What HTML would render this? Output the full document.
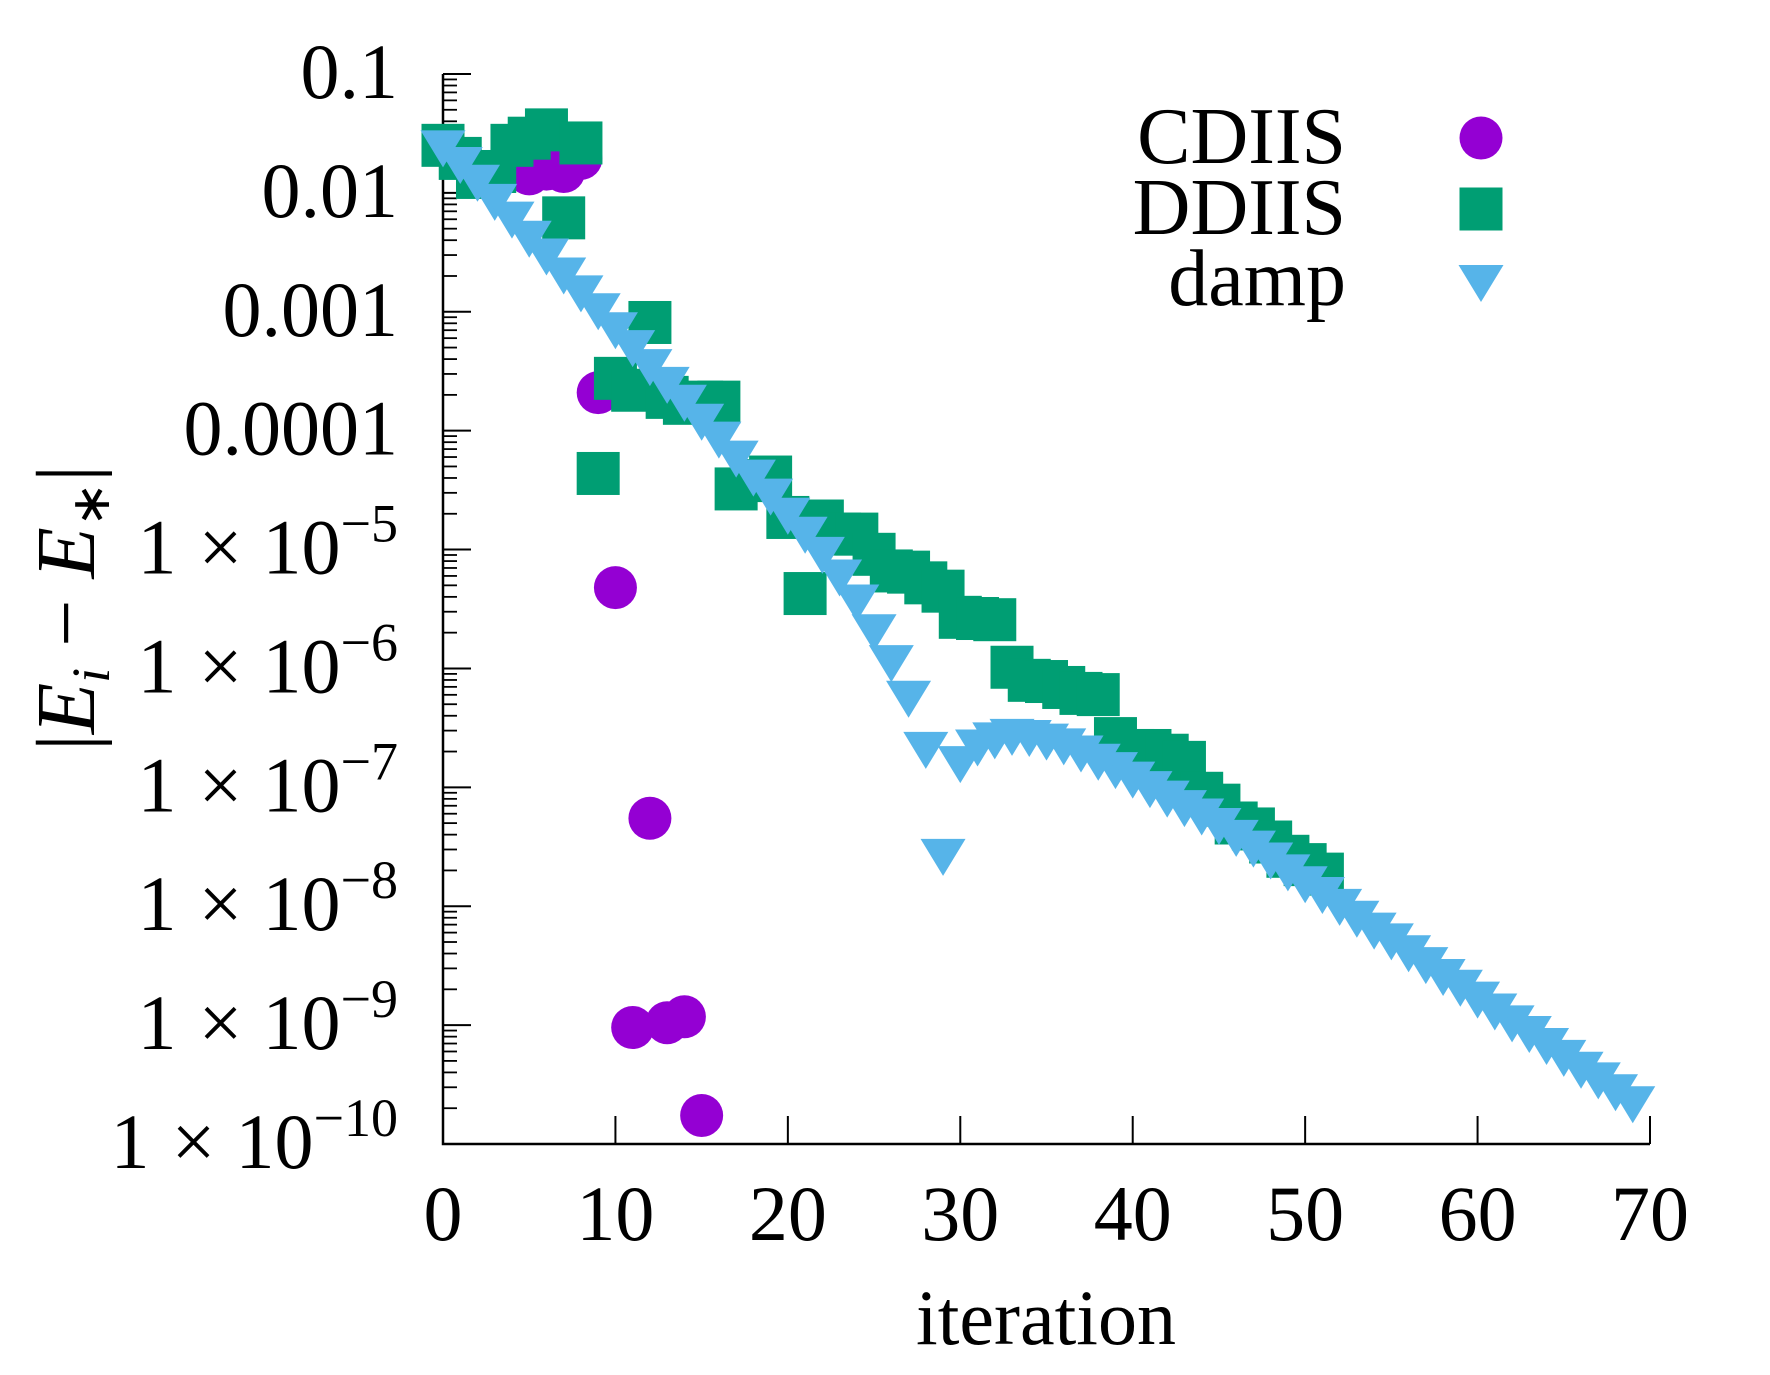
<!DOCTYPE html>
<html><head><meta charset="utf-8"><style>
html,body{margin:0;padding:0;background:#fff;}
svg{display:block;font-family:"Liberation Serif",serif;}
</style></head><body>
<svg id="chart" width="1770" height="1375" viewBox="0 0 1770 1375" xmlns="http://www.w3.org/2000/svg">
<g id="axes"></g>
<g id="marks"></g>
<g id="legend"></g>
<text x="1046" y="1344" font-size="78" text-anchor="middle">iteration</text>
<text transform="translate(94,608) rotate(-90)" font-size="84" text-anchor="middle">|<tspan font-style="italic">E</tspan><tspan font-style="italic" font-size="54" dy="15">i</tspan><tspan dy="-15"> − </tspan><tspan font-style="italic">E</tspan><tspan font-size="54" dy="15">∗</tspan><tspan dy="-15">|</tspan></text>
</svg>
<script>
const xTicks = [0,10,20,30,40,50,60,70];
const yDecades = [-1,-2,-3,-4,-5,-6,-7,-8,-9,-10];
const yTickLabels = ["0.1","0.01","0.001","0.0001","1 × 10","1 × 10","1 × 10","1 × 10","1 × 10","1 × 10"];
const yTickExps = ["","","","","−5","−6","−7","−8","−9","−10"];
const seriesNames = ["CDIIS","DDIIS","damp"];

const cdiisIter = [5,6,7,8,9,10,11,12,13,14,15];
const cdiisLog = [-1.84,-1.80,-1.82,-1.71,-3.68,-5.32,-9.02,-7.26,-8.98,-8.93,-9.76];

const ddiisIter = [0,1,2,3,4,5,6,7,8,9,10,11,12,13,14,15,16,17,18,19,20,21,22,23,24,25,26,27,28,29,30,31,32,33,34,35,36,37,38,39,40,41,42,43,44,45,46,47,48,49,50,51];
const ddiisLog = [-1.60,-1.71,-1.87,-1.82,-1.60,-1.54,-1.47,-2.21,-1.58,-4.36,-3.56,-3.66,-3.09,-3.72,-3.77,-3.76,-3.76,-4.49,-4.42,-4.39,-4.73,-5.37,-4.76,-4.87,-4.87,-5.04,-5.18,-5.19,-5.28,-5.35,-5.57,-5.58,-5.59,-5.99,-6.10,-6.11,-6.16,-6.21,-6.22,-6.59,-6.69,-6.69,-6.73,-6.79,-7.05,-7.15,-7.30,-7.35,-7.46,-7.58,-7.65,-7.73];

const dampIter = [0,1,2,3,4,5,6,7,8,9,10,11,12,13,14,15,16,17,18,19,20,21,22,23,24,25,26,27,28,29,30,31,32,33,34,35,36,37,38,39,40,41,42,43,44,45,46,47,48,49,50,51,52,53,54,55,56,57,58,59,60,61,62,63,64,65,66,67,68,69];
const dampLog = [-1.60,-1.74,-1.89,-2.05,-2.20,-2.36,-2.51,-2.67,-2.82,-2.97,-3.13,-3.28,-3.44,-3.59,-3.74,-3.90,-4.05,-4.21,-4.37,-4.53,-4.69,-4.85,-5.02,-5.21,-5.42,-5.67,-5.93,-6.23,-6.66,-7.56,-6.78,-6.64,-6.58,-6.55,-6.56,-6.59,-6.63,-6.69,-6.76,-6.83,-6.91,-6.99,-7.07,-7.15,-7.22,-7.30,-7.40,-7.49,-7.59,-7.69,-7.79,-7.88,-7.98,-8.08,-8.18,-8.27,-8.37,-8.47,-8.57,-8.66,-8.76,-8.86,-8.96,-9.05,-9.15,-9.25,-9.35,-9.44,-9.54,-9.64];

const NS = "http://www.w3.org/2000/svg";
const X0 = 443, X1 = 1650, Y0 = 74, Y1 = 1144;
function xs(v){ return X0 + (v - 0) / 70 * (X1 - X0); }
function ys(l){ return Y0 + (-1 - l) / 9 * (Y1 - Y0); }
function mk(tag, attrs, parent){ const e = document.createElementNS(NS, tag); for (const k in attrs) e.setAttribute(k, attrs[k]); parent.appendChild(e); return e; }

const axes = document.getElementById('axes');
const marks = document.getElementById('marks');
const legend = document.getElementById('legend');

let ax = mk('path', {d:`M${X0},${Y0} L${X0},${Y1} L${X1},${Y1}`, fill:'none', stroke:'#000', 'stroke-width':2.5}, axes);



xTicks.forEach(t => {
  const x = xs(t);
  if (t > 0) {
    const tk = mk('line', {x1:x, x2:x, y1:Y1, y2:Y1-28, stroke:'#000', 'stroke-width':2}, axes);
    
    
  }
  const lb = mk('text', {x:x, y:1240, 'font-size':78, 'text-anchor':'middle'}, axes);
  lb.textContent = String(t);
  
  
});

yDecades.forEach((d, i) => {
  const y = ys(d);
  const tk = mk('line', {x1:X0, x2:X0+28, y1:y, y2:y, stroke:'#000', 'stroke-width':2}, axes);
  
  
  if (d > -10) {
    for (let k = 2; k <= 9; k++) {
      const ym = ys(d - 1 + Math.log10(k));
      const mt = mk('line', {x1:X0, x2:X0+14, y1:ym, y2:ym, stroke:'#000', 'stroke-width':1.8}, axes);
      
      
    }
  }
  const lb = mk('text', {x:398, y:y+24, 'font-size':78, 'text-anchor':'end'}, axes);
  
  
  if (yTickExps[i]) {
    const parts = yTickLabels[i].split(' ');
    lb.appendChild(document.createTextNode(parts[0]));
    const s1 = document.createElementNS(NS, 'tspan');
    s1.setAttribute('dx', '22');
    s1.textContent = parts[1];
    lb.appendChild(s1);
    const s2 = document.createElementNS(NS, 'tspan');
    s2.setAttribute('dx', '20');
    s2.textContent = parts[2];
    lb.appendChild(s2);
    const sp = document.createElementNS(NS, 'tspan');
    sp.setAttribute('font-size', '54');
    sp.setAttribute('dy', '-32');
    sp.textContent = yTickExps[i];
    lb.appendChild(sp);
  } else {
    lb.textContent = yTickLabels[i];
  }
});

function circle(x, y, parent){ return mk('circle', {cx:x, cy:y, r:21.5, fill:'#9400d3'}, parent); }
function square(x, y, parent){ return mk('rect', {x:x-21.5, y:y-21.5, width:43, height:43, fill:'#009e73'}, parent); }
function tri(x, y, parent){ return mk('path', {d:`M${x-22.5},${y-15} L${x+22.5},${y-15} L${x},${y+22} Z`, fill:'#56b4e9'}, parent); }

cdiisIter.forEach((it, i) => {
  const c = circle(xs(it), ys(cdiisLog[i]), marks);
  
  
});
ddiisIter.forEach((it, i) => {
  const s = square(xs(it), ys(ddiisLog[i]), marks);
  
  
});
dampIter.forEach((it, i) => {
  const t = tri(xs(it), ys(dampLog[i]), marks);
  
  
});

const legY = [138, 209, 280];
const legFns = [circle, square, tri];
seriesNames.forEach((n, i) => {
  const lt = mk('text', {x:1346, y:legY[i]+25, 'font-size':80, 'text-anchor':'end'}, legend);
  lt.textContent = n;
  
  
  const m = legFns[i](1481, legY[i], legend);
  
  
});
</script>
</body></html>
